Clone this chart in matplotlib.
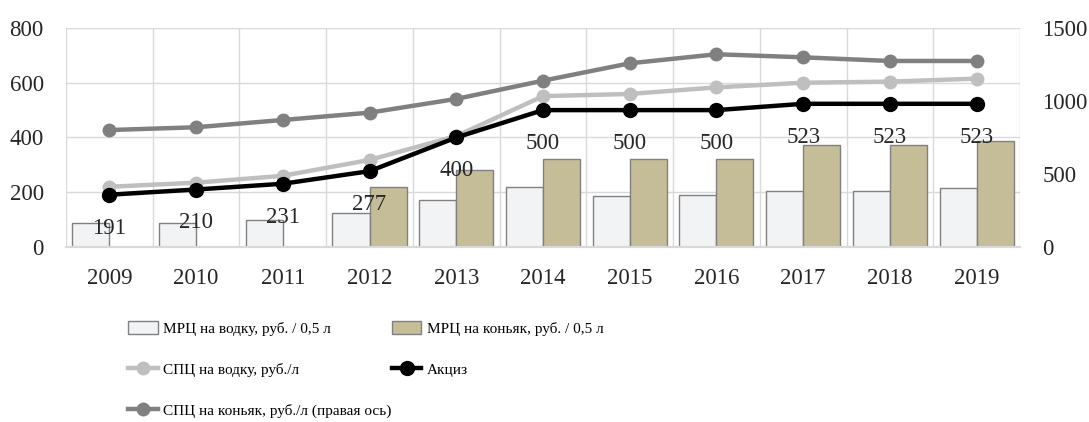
"""
МРЦ / СПЦ / акциз на водку и коньяк, 2009-2019
"""

import numpy as np
import matplotlib
matplotlib.use("Agg")
import matplotlib.pyplot as plt

years = ["2009", "2010", "2011", "2012", "2013", "2014", "2015", "2016", "2017", "2018", "2019"]

mrc_vodka = [89, 89, 98, 125, 170, 220, 185, 190, 205, 205, 215]      # левая ось
mrc_cognac = [0, 0, 0, 220, 280, 322, 322, 322, 371, 371, 388]       # левая ось
spc_vodka = [220, 235, 260, 318, 405, 551, 559, 583, 600, 604, 615]  # левая ось
akciz = [191, 210, 231, 277, 400, 500, 500, 500, 523, 523, 523]      # левая ось
spc_cognac = [801, 820, 870, 920, 1014, 1139, 1258, 1320, 1299, 1274, 1274]  # правая ось

plt.rcParams['font.family'] = ['Liberation Serif', 'DejaVu Serif']

fig = plt.figure(figsize=(10.89, 4.22), dpi=100)
ax = fig.add_axes([0.0606, 0.4147, 0.876, 0.519])
ax2 = ax.twinx()

x = np.arange(len(years))
w = 0.427
grid_c = "#D9D9D9"
txt_c = "#262626"
fs = 16.5

b1 = ax.bar(x - w/2, mrc_vodka, w, color="#F2F3F5", edgecolor="#808080", linewidth=1.0,
            label="МРЦ на водку, руб. / 0,5 л", zorder=2)
b2 = ax.bar(x + w/2, mrc_cognac, w, color="#C4BD97", edgecolor="#808080", linewidth=1.0,
            label="МРЦ на коньяк, руб. / 0,5 л", zorder=2)

l1, = ax.plot(x, spc_vodka, color="#BFBFBF", lw=3.2, marker="o", ms=9,
              label="СПЦ на водку, руб./л", zorder=3)
l2, = ax.plot(x, akciz, color="black", lw=3.2, marker="o", ms=10,
              label="Акциз", zorder=4)
l3, = ax2.plot(x, spc_cognac, color="#808080", lw=3.2, marker="o", ms=9,
               label="СПЦ на коньяк, руб./л (правая ось)", zorder=3)

# подписи акциза, сдвинуты вниз от точек
for i, v in enumerate(akciz):
    ax.annotate(str(v), (i, v), xytext=(0, -24), textcoords="offset points",
                ha="center", va="center", fontsize=fs, color=txt_c, zorder=5)

ax.set_xlim(-0.5, len(years) - 0.5)
ax.set_ylim(0, 800)
ax.set_yticks([0, 200, 400, 600, 800])
ax2.set_ylim(0, 1500)
ax2.set_yticks([0, 500, 1000, 1500])

ax.set_xticks(x)
ax.set_xticklabels(years)
ax.set_xticks(np.arange(-0.5, len(years)), minor=True)
ax.grid(True, which="minor", axis="x", color=grid_c, lw=1.0, zorder=0)
ax.grid(True, which="major", axis="y", color=grid_c, lw=1.0, zorder=0)
ax.set_axisbelow(True)

ax.tick_params(axis="both", which="both", length=0, labelsize=fs, colors=txt_c)
ax.tick_params(axis="x", pad=15)
ax.tick_params(axis="y", pad=16)
ax2.tick_params(axis="y", length=0, labelsize=fs, colors=txt_c, pad=16)

for a in (ax, ax2):
    for s in ("top", "left", "right"):
        a.spines[s].set_visible(False)
    a.spines["bottom"].set_color(grid_c)
    a.spines["bottom"].set_linewidth(1.5)

handles = [b1, l1, l3, b2, l2]
fig.legend(handles=handles, labels=[h.get_label() for h in handles], ncol=2,
           loc="upper left", bbox_to_anchor=(0.105, 0.272), frameon=False,
           fontsize=11, handlelength=1.95, handleheight=0.9, labelspacing=1.75,
           columnspacing=0.0, handletextpad=0.35)

plt.savefig("out.png", dpi=100)
